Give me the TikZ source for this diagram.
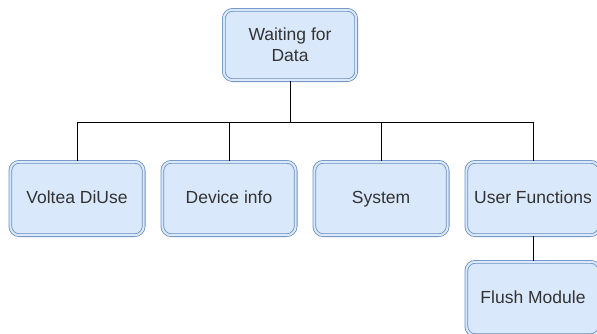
\documentclass[tikz,border=0pt]{standalone}
\usepackage{fontspec}
\setmainfont{Liberation Sans}
\usetikzlibrary{positioning}
\definecolor{menufill}{HTML}{DAE8FC}
\definecolor{menuline}{HTML}{6C8EBF}
\definecolor{menutext}{HTML}{333333}
\tikzstyle{menubox} = [rectangle, rounded corners=9pt, minimum width=133.4pt, minimum height=73.4pt, text centered, draw=menuline, double=menufill, double distance=2pt, line width=0.8pt, fill=menufill, text=menutext, font=\fontsize{17.5}{21}\selectfont]
\tikzstyle{rowbox} = [menubox, text height=12.5pt, text depth=3.5pt]
\tikzstyle{link} = [line width=1pt, black]

\begin{document}
\begin{tikzpicture}[
        node distance=25.8pt and 17.8pt,
        every text node part/.style={align=center}
    ]
        \useasboundingbox (0,0) rectangle (597pt,-333pt);

        % Root
        \node (wait) [menubox, minimum width=132.4pt, minimum height=70.4pt] at (290pt,-45pt) {Waiting for\\Data};

        % Menu row
        \node (voltea) [rowbox] at (77pt,-198.5pt) {Voltea DiUse};
        \node (device) [rowbox, right=of voltea] {Device info};
        \node (system) [rowbox, right=of device] {System};
        \node (user) [rowbox, right=of system] {User Functions};

        % Sub menu
        \node (flush) [rowbox, below=of user] {Flush Module};

        % Links
        \coordinate (bus) at (0,-122pt);
        \draw [link] (wait.south) -- (wait.south |- bus);
        \draw [link] (voltea.north |- bus) -- (user.north |- bus);
        \foreach \n in {voltea, device, system, user}
            \draw [link] (\n.north |- bus) -- (\n.north);
        \draw [link] (user.south) -- (flush.north);

    \end{tikzpicture}
\end{document}
